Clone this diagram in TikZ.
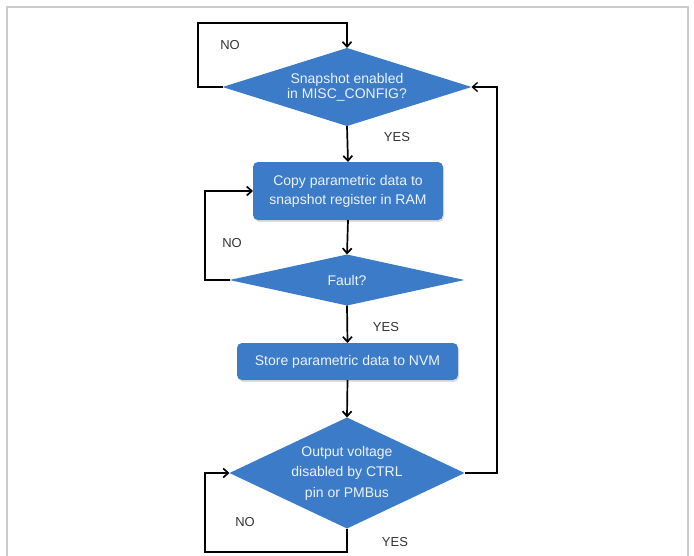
\documentclass[tikz,border=0pt]{standalone}
\usepackage{fontspec}
\setmainfont{Liberation Sans}
\usetikzlibrary{shapes.geometric,arrows.meta,shadows}
\definecolor{flowblue}{HTML}{3C7BC8}
\definecolor{lbltext}{HTML}{333333}
\definecolor{framegray}{HTML}{CCCCCC}
\begin{document}
\begin{tikzpicture}[x=1pt,y=-1pt,
  dec/.style={diamond, fill=flowblue, text=white!90!flowblue, inner sep=0pt, outer sep=0pt, aspect=3,
    align=center, font=\fontsize{14}{19.5}\selectfont},
  proc/.style={rectangle, rounded corners=5pt, fill=flowblue, text=white!90!flowblue, inner sep=0pt, outer sep=0pt,
    align=center, font=\fontsize{14}{19}\selectfont,
    drop shadow={opacity=0.25, shadow xshift=1pt, shadow yshift=-2pt}},
  flow/.style={line width=1.7pt, -{Straight Barb[length=5pt,width=9pt]}},
  lbl/.style={font=\fontsize{13}{15}\selectfont, text=lbltext}]
\useasboundingbox (0,0) rectangle (694,555);
\draw[framegray, line width=1.3pt] (7,560) -- (7,7) -- (688,7) -- (688,560);

\node[dec, minimum width=249pt, minimum height=78pt, font=\fontsize{14}{15}\selectfont] (d1) at (347,87) {Snapshot enabled\\in MISC\_CONFIG?};
\node[proc, minimum width=190pt, minimum height=58pt] (b1) at (348,191) {Copy parametric data to\\snapshot register in RAM};
\node[dec, minimum width=235pt, minimum height=51pt] (d2) at (347,280) {Fault?};
\node[proc, minimum width=221pt, minimum height=37pt] (b2) at (347.5,361.5) {Store parametric data to NVM};
\node[dec, aspect=2.15, minimum width=235pt, minimum height=111pt, font=\fontsize{14}{20.5}\selectfont] (d3) at (347,473) {Output voltage\\disabled by CTRL\\pin or PMBus};

\coordinate (c1) at (198,23);
\coordinate (c2) at (205,191);
\coordinate (c3) at (205,552);
\coordinate (c4) at (497,87);

\draw[flow] (d1.south) -- (b1.north);
\draw[flow] (b1.south) -- (d2.north);
\draw[flow] (d2.south) -- (b2.north);
\draw[flow] (b2.south) -- (d3.north);

\draw[flow] (d1.west) -| (c1) -| (d1.north);
\draw[flow] (d2.west) -| (c2) -- (b1.west);
\draw[flow] (d3.south) |- (c3) |- (d3.west);
\draw[flow, line width=1.4pt] (d3.east) -| (c4) -- (d1.east);

\node[lbl] (n1) at (230,45) {NO};
\node[lbl] (y1) at (397,137) {YES};
\node[lbl] (n2) at (232,243) {NO};
\node[lbl] (y2) at (386,327) {YES};
\node[lbl] (n3) at (245,522) {NO};
\node[lbl] (y3) at (395,542) {YES};
\end{tikzpicture}
\end{document}
